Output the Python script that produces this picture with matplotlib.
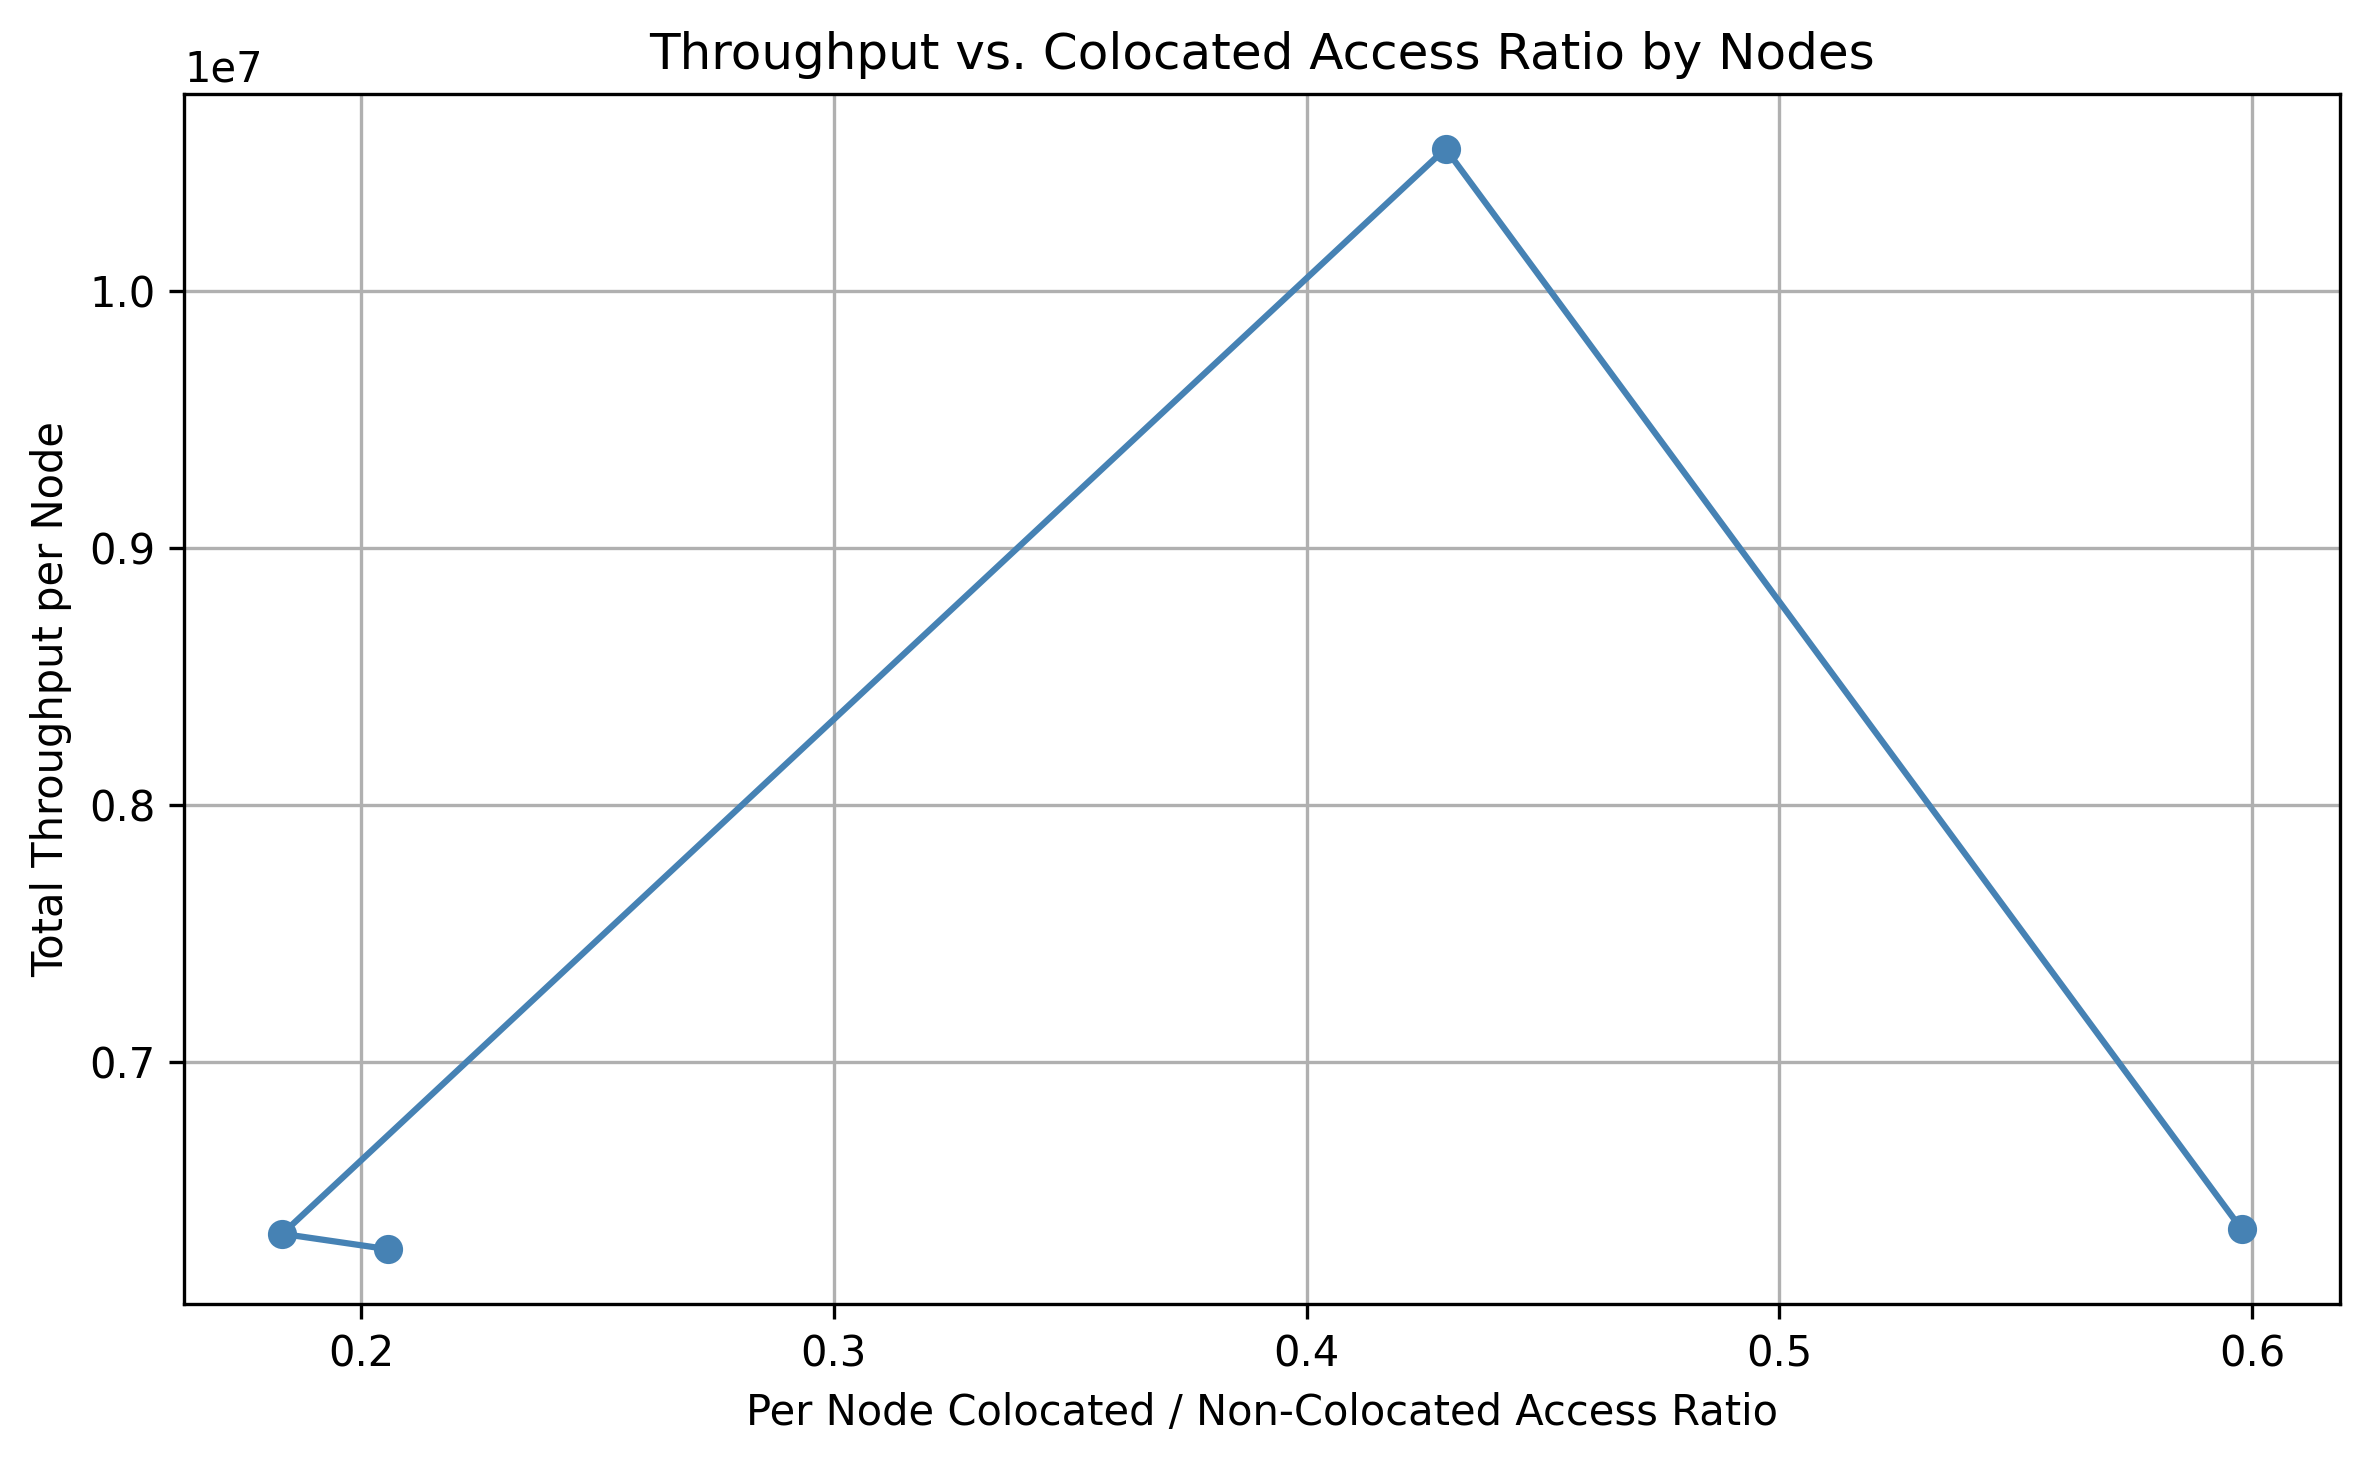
import matplotlib.pyplot as plt

# per node colocated / non-colocated ratio and throughput, in run order
ratio = [0.2058, 0.1834, 0.4294, 0.5978]
throughput = [6.27e6, 6.33e6, 10.553e6, 6.347e6]

fig = plt.figure(figsize=(7.9, 4.887), dpi=300)
ax = fig.add_axes([122 / 1568, 1 - 863 / 970, (1548 - 122) / 1568, (863 - 62) / 970])
ax.plot(ratio, throughput, marker='o', color='steelblue', linewidth=1.5, markersize=6)
ax.set_xlabel('Per Node Colocated / Non-Colocated Access Ratio')
ax.set_ylabel('Total Throughput per Node')
ax.set_title('Throughput vs. Colocated Access Ratio by Nodes')
ax.grid(True)
fig.savefig('out.png')
